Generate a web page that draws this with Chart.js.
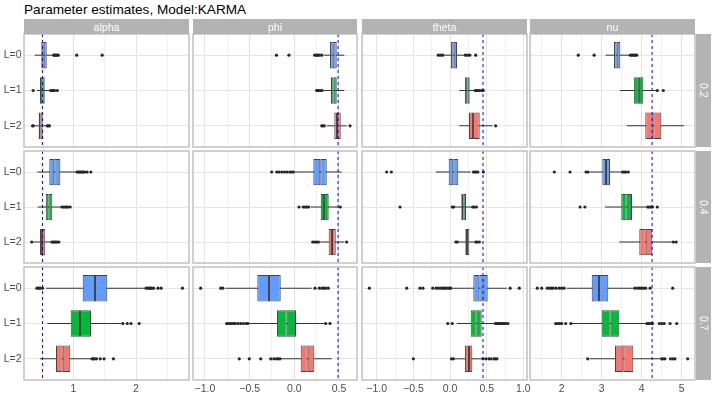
<!DOCTYPE html>
<html><head><meta charset="utf-8">
<script src="https://cdn.jsdelivr.net/npm/chart.js@4/dist/chart.umd.min.js"></script>
<style>
html,body{margin:0;padding:0;background:#fff;}
body{width:714px;height:397px;position:relative;overflow:hidden;font-family:"Liberation Sans",Arial,sans-serif;}
.t{position:absolute;left:24px;top:3px;font-size:13.6px;line-height:14px;color:#000;white-space:nowrap;}
.s{position:absolute;background:#b3b3b3;color:#fff;font-size:10.6px;display:flex;align-items:center;justify-content:center;white-space:nowrap;}
.v{writing-mode:vertical-rl;}
canvas{position:absolute;}
</style></head><body>
<div class="t">Parameter estimates, Model:KARMA</div>
<script>
// ---- data ----
const params = ['alpha', 'phi', 'theta', 'nu'];
const rhos = ['0.2', '0.4', '0.7'];
const levels = ['L=0', 'L=1', 'L=2'];
const levelColors = ['#619CFF', '#00BA38', '#F8766D'];
const trueValues = [0.51, 0.49, 0.45, 4.26];

// box stats [whiskerLow, q1, median, q3, whiskerHigh], per rho row, per level
const alphaStats = [
  [[0.384,0.490,0.528,0.576,0.681],[0.42,0.469,0.505,0.544,0.63],[0.38,0.448,0.474,0.512,0.575]],
  [[0.426,0.617,0.697,0.793,1.043],[0.432,0.560,0.601,0.665,0.815],[0.36,0.469,0.50,0.553,0.655]],
  [[0.565,1.15,1.346,1.542,2.14],[0.585,0.958,1.107,1.282,1.77],[0.469,0.724,0.831,0.952,1.293]]
];
const phiStats = [
  [[0.333,0.40,0.43,0.475,0.56],[0.325,0.411,0.441,0.475,0.56],[0.363,0.448,0.478,0.52,0.587]],
  [[0.008,0.213,0.291,0.363,0.531],[0.184,0.296,0.333,0.385,0.50],[0.29,0.385,0.422,0.464,0.56]],
  [[-0.768,-0.414,-0.283,-0.152,0.195],[-0.504,-0.194,-0.085,0.019,0.344],[-0.171,0.072,0.15,0.224,0.419]]
];
const thetaStats = [
  [[-0.082,0.014,0.05,0.095,0.205],[0.127,0.205,0.236,0.268,0.34],[0.127,0.259,0.314,0.405,0.58]],
  [[-0.195,-0.018,0.045,0.113,0.282],[0.07,0.154,0.181,0.218,0.30],[0.12,0.209,0.232,0.263,0.33]],
  [[0.032,0.318,0.40,0.514,0.773],[0.09,0.282,0.364,0.432,0.60],[0.06,0.205,0.259,0.304,0.44]]
];
const nuStats = [
  [[3.1,3.308,3.375,3.465,3.71],[3.46,3.81,3.93,4.04,4.37],[3.625,4.09,4.29,4.49,5.06]],
  [[2.708,3.015,3.108,3.208,3.50],[3.083,3.49,3.625,3.758,4.125],[3.44,3.94,4.10,4.265,4.775]],
  [[2.125,2.75,2.933,3.165,3.79],[2.25,3.0,3.225,3.44,4.108],[2.70,3.333,3.54,3.79,4.48]]
];

// outliers per rho row, per level
const alphaOut = [
  [[0.69,0.70,0.72,0.74,0.76,1.054,1.46],[0.36,0.64,0.66,0.68,0.70,0.745],[0.35,0.362,0.585,0.60,0.62]],
  [[1.06,1.08,1.10,1.12,1.14,1.16,1.18,1.22,1.28],[0.82,0.84,0.87,0.89,0.91,0.95],[0.337,0.66,0.68,0.70,0.72,0.74,0.77]],
  [[0.42,0.45,0.47,0.51,2.16,2.19,2.21,2.23,2.25,2.28,2.35,2.40,2.74],[1.79,1.86,1.92,2.05],[1.30,1.32,1.34,1.37,1.43,1.49,1.64]]
];
const phiOut = [
  [[-0.20,-0.06,0.228,0.25,0.26,0.28,0.307],[0.25,0.26,0.27,0.29,0.31],[0.307,0.32,0.335,0.624]],
  [[-0.253,-0.197,-0.17,-0.14,-0.11,-0.08,-0.05,-0.03,-0.01],[0.053,0.10,0.12,0.14,0.16,0.515],[0.206,0.23,0.25,0.27,0.587]],
  [[-1.048,-0.824,-0.80,0.232,0.28,0.31,0.33,0.35,0.38],[-0.757,-0.74,-0.72,-0.70,-0.68,-0.66,-0.63,-0.60,-0.57,-0.54,-0.52,0.352,0.40],[-0.616,-0.504,-0.376,-0.264,-0.23,-0.20,-0.18,-0.16]]
];
const thetaOut = [
  [[-0.16,-0.13,-0.10,0.21,0.24,0.27,0.35],[0.345,0.36,0.38,0.40,0.43,0.455],[0.623]],
  [[-0.864,-0.80,0.32,0.34,0.36,0.38,0.455],[-0.682,0.03,0.05,0.31,0.33,0.36],[0.08,0.10,0.35,0.37,0.40]],
  [[-1.10,-0.59,-0.41,-0.37,-0.236,-0.19,-0.16,-0.13,-0.10,-0.08,-0.06,-0.03,-0.01,0.01,0.82,0.945],[-0.03,0.03,0.62,0.64,0.66,0.68,0.70,0.72,0.74,0.76,0.79],[-0.50,0.02,0.045,0.45,0.49,0.53,0.56,0.60,0.62,0.64]]
];
const nuOut = [
  [[2.415,2.81,3.72,3.76,3.80,3.84,3.875],[4.39,4.54],[]],
  [[1.815,2.208,2.608,2.66,3.52,3.56,3.60,3.665],[2.46,2.58,4.15,4.19,4.23,4.27,4.39],[4.79,4.86]],
  [[1.39,1.50,1.64,1.70,1.75,1.79,1.86,1.94,2.00,2.06,3.83,3.90,3.95,4.00,4.05,4.10,4.21,4.775],[1.85,1.90,1.95,2.00,2.10,2.23,4.13,4.17,4.20,4.25,4.27,4.44,4.50,4.56,4.71,4.875],[2.65,4.50,4.53,4.58,4.72,4.78,4.83,5.15]]
];

// axis ticks per parameter column
const majorTicks = [[1, 2], [-1, -0.5, 0, 0.5], [-1, -0.5, 0, 0.5, 1], [2, 3, 4, 5]];
const minorTicks = [[0.5, 1.5, 2.5], [-0.75, -0.25, 0.25], [-0.75, -0.25, 0.25, 0.75], [1.5, 2.5, 3.5, 4.5]];
const tickLabels = [['1', '2'], ['\u22121.0', '\u22120.5', '0.0', '0.5'], ['\u22121.0', '\u22120.5', '0.0', '0.5', '1.0'], ['2', '3', '4', '5']];

const statsBy = [alphaStats, phiStats, thetaStats, nuStats];
const outBy = [alphaOut, phiOut, thetaOut, nuOut];

// ---- layout / options ----
const xLimits = [[0.2137, 2.845], [-1.134, 0.702], [-1.2005, 1.050], [1.2075, 5.3325]];
const PL = [24, 193, 362, 530];
const PW = [165, 164, 165, 165];
const PT = [34, 151, 267];
const PH = [113, 112, 113];
const FONT = 'Liberation Sans';

const borderPlugin = {
  id: 'panelBorder',
  afterDraw(chart) {
    const { ctx, chartArea: a } = chart;
    ctx.save();
    ctx.strokeStyle = '#bdbdbd';
    ctx.lineWidth = 1.4;
    ctx.strokeRect(a.left, a.top, a.right - a.left, a.bottom - a.top);
    ctx.restore();
  }
};

function makePanel(r, c) {
  const stats = statsBy[c][r];
  const outs = outBy[c][r];
  const yW = c === 0 ? 24 : 0;
  const xH = r === 2 ? 17 : 0;
  const pad = 12;
  const cv = document.createElement('canvas');
  const w = PW[c] + 2 * pad + yW, h = PH[r] + 2 * pad + xH;
  cv.width = w; cv.height = h;
  cv.style.left = (PL[c] - pad - yW) + 'px';
  cv.style.top = (PT[r] - pad) + 'px';
  cv.style.width = w + 'px'; cv.style.height = h + 'px';
  document.body.appendChild(cv);
  const allTicks = majorTicks[c].concat(minorTicks[c]).sort((a, b) => a - b);

  const datasets = [
    { type: 'line', indexAxis: 'x', data: [{ x: trueValues[c], y: -0.6 }, { x: trueValues[c], y: 2.6 }],
      borderColor: '#0000ff', borderWidth: 1, borderDash: [3, 3], pointRadius: 0, fill: false, order: 0 },
    { type: 'scatter', indexAxis: 'x', data: outs.flatMap((arr, i) => arr.map(v => ({ x: v, y: i }))),
      pointRadius: 1.6, backgroundColor: '#262626', borderWidth: 0, order: 1 },
    { type: 'bar', indexAxis: 'y', grouped: false, data: stats.map((s, i) => ({ y: i, x: [s[1], s[2]] })),
      backgroundColor: levelColors, borderColor: '#444', borderWidth: 1, borderSkipped: false,
      categoryPercentage: 1, barPercentage: 0.75, order: 2 },
    { type: 'bar', indexAxis: 'y', grouped: false, data: stats.map((s, i) => ({ y: i, x: [s[2], s[3]] })),
      backgroundColor: levelColors, borderColor: '#444', borderWidth: 1, borderSkipped: false,
      categoryPercentage: 1, barPercentage: 0.75, order: 2 },
    { type: 'bar', indexAxis: 'y', grouped: false, data: stats.map((s, i) => ({ y: i, x: [s[0], s[4]] })),
      backgroundColor: '#333', borderWidth: 0, maxBarThickness: 1,
      categoryPercentage: 1, barPercentage: 0.75, order: 3 }
  ];

  new Chart(cv, {
    type: 'bar',
    data: { datasets },
    plugins: [borderPlugin],
    options: {
      indexAxis: 'y',
      responsive: false, animation: false, devicePixelRatio: 1, events: [],
      layout: { padding: pad },
      plugins: { legend: { display: false }, tooltip: { enabled: false } },
      scales: {
        x: {
          type: 'linear', position: 'bottom', min: xLimits[c][0], max: xLimits[c][1], offset: false,
          afterBuildTicks: ax => { ax.ticks = allTicks.map(v => ({ value: v })); },
          afterFit: ax => { ax.height = xH; },
          grid: { drawTicks: false, lineWidth: 1, offset: false,
            color: ctx => (ctx.tick && majorTicks[c].includes(ctx.tick.value)) ? '#e3e3e3' : '#f1f1f1' },
          border: { display: false },
          ticks: { display: r === 2, autoSkip: false, maxRotation: 0, padding: 3, color: '#4d4d4d',
            font: { family: FONT, size: 10.5 },
            callback: v => { const k = majorTicks[c].indexOf(v); return k >= 0 ? tickLabels[c][k] : ''; } }
        },
        y: {
          type: 'linear', position: 'left', reverse: true, min: -0.6, max: 2.6, offset: false,
          afterBuildTicks: ax => { ax.ticks = levels.map((_, i) => ({ value: i })); },
          afterFit: ax => { ax.width = yW; },
          grid: { drawTicks: false, color: '#e6e6e6', lineWidth: 1, offset: false },
          border: { display: false },
          ticks: { display: c === 0, autoSkip: false, padding: 2.5, color: '#4d4d4d',
            font: { family: FONT, size: 10.5 }, callback: v => levels[v] }
        }
      }
    }
  });
}

for (let r = 0; r < rhos.length; r++)
  for (let c = 0; c < params.length; c++) makePanel(r, c);

// strips
params.forEach((p, c) => {
  const d = document.createElement('div');
  d.className = 's';
  d.style.left = PL[c] + 'px'; d.style.top = '19px';
  d.style.width = PW[c] + 'px'; d.style.height = '15px';
  d.textContent = p;
  document.body.appendChild(d);
});
rhos.forEach((rh, r) => {
  const d = document.createElement('div');
  d.className = 's';
  d.style.left = '696px'; d.style.top = PT[r] + 'px';
  d.style.width = '15px'; d.style.height = PH[r] + 'px';
  const sp = document.createElement('span');
  sp.className = 'v';
  sp.textContent = rh;
  d.appendChild(sp);
  document.body.appendChild(d);
});
</script>
</body></html>
